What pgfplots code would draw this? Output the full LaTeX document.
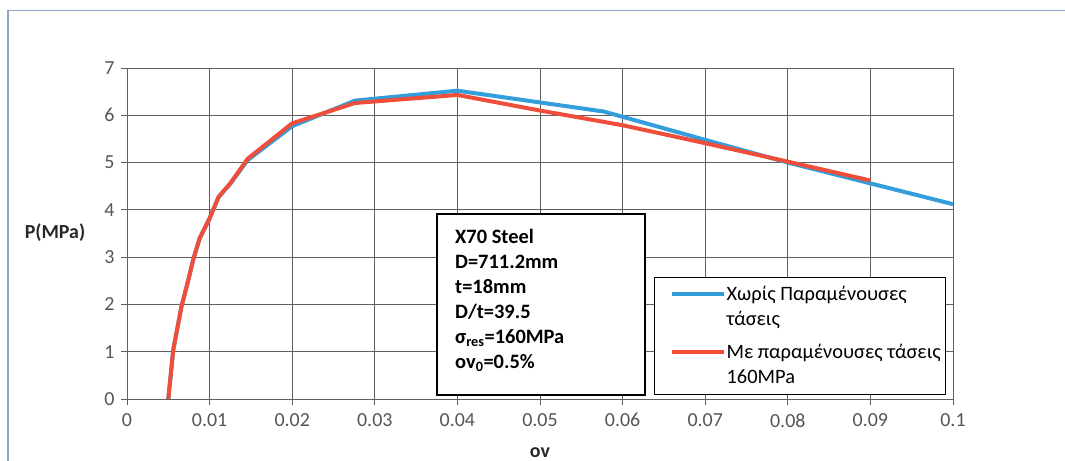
\documentclass[border=0pt]{standalone}
\usepackage{fontspec}
\setmainfont{Carlito}
\usepackage{pgfplots}
\pgfplotsset{compat=1.18}
\definecolor{cblue}{RGB}{50,158,220}
\definecolor{cred}{RGB}{238,78,58}
\definecolor{gridc}{RGB}{95,95,95}
\definecolor{tickc}{RGB}{85,85,85}
\definecolor{framec}{RGB}{140,165,200}
\definecolor{labc}{RGB}{40,40,40}

\pgfplotstableread{
x y
0.0050 0
0.0056 1.04
0.0066 1.96
0.0074 2.50
0.0080 2.94
0.0088 3.40
0.0100 3.82
0.0111 4.27
0.0125 4.55
0.0146 5.05
0.0200 5.77
0.0276 6.31
0.0400 6.52
0.0577 6.08
0.0700 5.48
0.0800 5.00
0.0900 4.56
0.1000 4.12
}\blue

\pgfplotstableread{
x y
0.0050 0
0.0056 1.04
0.0066 1.96
0.0074 2.50
0.0080 2.94
0.0088 3.40
0.0100 3.82
0.0111 4.28
0.0125 4.56
0.0146 5.08
0.0200 5.83
0.0276 6.26
0.0400 6.43
0.0500 6.10
0.0600 5.79
0.0700 5.41
0.0800 5.02
0.0900 4.62
}\red

\begin{document}
\begin{tikzpicture}
\path[use as bounding box] (0bp,0bp) rectangle (1065bp,461bp);
\draw[framec, line width=1.2bp] (8bp,0bp) -- (8bp,450.3bp) -- (1065bp,450.3bp);
\begin{axis}[
  at={(127bp,62bp)}, anchor=south west,
  scale only axis, width=826bp, height=331bp,
  xmin=0, xmax=0.1, ymin=0, ymax=7,
  xtick={0,0.01,0.02,0.03,0.04,0.05,0.06,0.07,0.08,0.09,0.1},
  xticklabels={0,0.01,0.02,0.03,0.04,0.05,0.06,0.07,0.08,0.09,0.1},
  ytick={0,1,2,3,4,5,6,7},
  yticklabels={0,1,2,3,4,5,6,7},
  /pgf/number format/assume math mode=true,
  grid=major,
  major grid style={gridc, line width=0.9bp},
  axis lines*=left,
  axis line style={gridc, line width=0.9bp},
  tick style={gridc, line width=0.9bp},
  major tick length=6bp,
  tick align=outside,
  xtick pos=bottom, ytick pos=left,
  ticklabel style={font=\fontsize{20}{23}\selectfont, text=tickc},
  xticklabel shift=5bp,
  yticklabel style={xshift=-3bp},
  legend style={at={(0.638,0.3686)}, anchor=north west, draw=black, line width=1.2bp,
    font=\fontsize{20.5}{25}\selectfont, inner xsep=4bp, inner ysep=7bp,
    row sep=13bp,
    nodes={inner xsep=1bp},
    cells={anchor=west, align=left}},
  legend image code/.code={\path (0bp,0bp); \draw[#1, line width=4bp] (11bp,12.5bp) -- (63bp,12.5bp);},
]
\addplot[cblue, line width=4bp, line join=round] table[x=x,y=y] {\blue};
\addlegendentry{Χωρίς Παραμένουσες\\τάσεις}
\addplot[cred, line width=4bp, line join=round] table[x=x,y=y] {\red};
\addlegendentry{Με παραμένουσες τάσεις\\160MPa}
\end{axis}
\draw[black, line width=1.2bp, fill=white] (437bp,66bp) rectangle (645bp,247bp);
\node[anchor=north west, align=left, inner sep=0pt, text=black,
  font=\fontsize{20.5}{25}\selectfont\bfseries] at (455bp,232bp)
  {X70 Steel\\D=711.2mm\\t=18mm\\D/t=39.5\\σ\textsubscript{res}=160MPa\\ov\textsubscript{0}=0.5\%};
\node[font=\fontsize{20}{22}\selectfont\bfseries, text=labc] at (55bp,228bp) {P(MPa)};
\node[font=\fontsize{20}{22}\selectfont\bfseries, text=labc] at (540bp,8bp) {ov};
\end{tikzpicture}
\end{document}
